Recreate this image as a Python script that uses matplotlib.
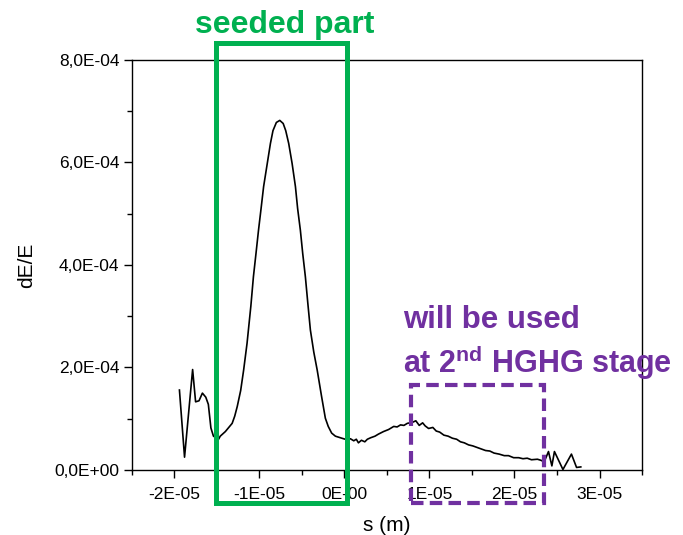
import matplotlib
matplotlib.use("Agg")
import matplotlib.pyplot as plt
from matplotlib.patches import Rectangle
from matplotlib.ticker import MultipleLocator

plt.rcParams["font.family"] = ["Liberation Sans", "DejaVu Sans"]
plt.rcParams["mathtext.fontset"] = "custom"
plt.rcParams["mathtext.rm"] = "Liberation Sans"
plt.rcParams["mathtext.bf"] = "Liberation Sans:bold"

# energy modulation profile, s in 1e-5 m, dE/E in 1e-4
s_pos = [-1.94, -1.88, -1.785, -1.75, -1.71, -1.67, -1.63, -1.60, -1.57, -1.54,
         -1.48, -1.46, -1.40, -1.32, -1.29, -1.26, -1.22, -1.185, -1.145, -1.10,
         -1.07, -1.04, -1.01, -0.98, -0.95, -0.91, -0.87, -0.84, -0.80, -0.76,
         -0.72, -0.69, -0.655, -0.615, -0.576, -0.55, -0.518, -0.49, -0.459,
         -0.43, -0.40, -0.36, -0.32, -0.27, -0.224, -0.19, -0.15, -0.106, -0.03,
         0.03, 0.07, 0.11, 0.14, 0.165, 0.20, 0.24,
         0.27, 0.31, 0.36, 0.40, 0.46, 0.52, 0.58, 0.62, 0.66, 0.70, 0.74, 0.80,
         0.84, 0.88, 0.92, 0.95, 0.99, 1.04, 1.08, 1.12, 1.17, 1.22, 1.27, 1.32,
         1.365, 1.41, 1.46, 1.51, 1.56, 1.61, 1.66, 1.71, 1.76, 1.82, 1.88, 1.93,
         1.99, 2.05, 2.10, 2.15, 2.20, 2.27, 2.31, 2.35, 2.40, 2.44, 2.47, 2.57,
         2.67, 2.73, 2.78]
de_e = [1.56, 0.25, 1.96, 1.33, 1.35, 1.50, 1.42, 1.28, 0.82, 0.66,
        0.60, 0.66, 0.75, 0.91, 1.05, 1.24, 1.55, 1.95, 2.47, 3.20,
        3.77, 4.22, 4.68, 5.10, 5.53, 5.95, 6.37, 6.62, 6.78, 6.82,
        6.76, 6.62, 6.37, 5.98, 5.53, 5.10, 4.68, 4.22, 3.77,
        3.25, 2.73, 2.30, 1.95, 1.45, 1.01, 0.85, 0.72, 0.66, 0.62,
        0.59, 0.61, 0.57, 0.60, 0.53, 0.58, 0.55,
        0.60, 0.63, 0.66, 0.70, 0.75, 0.79, 0.85, 0.84, 0.88, 0.87, 0.91, 0.93,
        0.96, 0.87, 0.92, 0.86, 0.81, 0.83, 0.76, 0.74, 0.68, 0.66, 0.62, 0.60,
        0.55, 0.53, 0.49, 0.47, 0.44, 0.41, 0.38, 0.37, 0.33, 0.31, 0.28, 0.28,
        0.24, 0.24, 0.22, 0.23, 0.20, 0.21, 0.19, 0.16, 0.36, 0.08, 0.36, 0.01,
        0.31, 0.05, 0.06]

x_ticks = [-2, -1, 0, 1, 2, 3]
x_tick_labels = ["-2E-05", "-1E-05", "0E-00", "1E-05", "2E-05", "3E-05"]
y_ticks = [0, 2, 4, 6, 8]
y_tick_labels = ["0,0E+00", "2,0E-04", "4,0E-04", "6,0E-04", "8,0E-04"]

GREEN = "#00B050"
PURPLE = "#7030A0"

fig = plt.figure(figsize=(6.83, 5.35), dpi=100)
ax = fig.add_axes([0.193, 0.1215, 0.747, 0.7665])

ax.plot(s_pos, de_e, color="black", linewidth=1.2)

ax.set_xlim(-2.5, 3.5)
ax.set_ylim(0, 8)
ax.set_xticks(x_ticks)
ax.set_xticklabels(x_tick_labels)
ax.set_yticks(y_ticks)
ax.set_yticklabels(y_tick_labels)
ax.xaxis.set_minor_locator(MultipleLocator(0.5))
ax.yaxis.set_minor_locator(MultipleLocator(1))
ax.tick_params(which="both", direction="out", top=False, right=False,
               labelsize=12.5, width=1.0)
ax.tick_params(which="major", length=6)
ax.tick_params(axis="x", which="major", pad=6)
ax.tick_params(axis="y", which="major", pad=3)
ax.tick_params(which="minor", length=3.5)
for sp in ax.spines.values():
    sp.set_linewidth(1.0)

ax.set_xlabel("s (m)", fontsize=15, labelpad=10)
ax.set_ylabel("dE/E", fontsize=15, labelpad=13)

# highlighted regions (drawn past the axes)
ax.add_patch(Rectangle((-1.506, -0.644), 1.541, 8.977, fill=False,
                       edgecolor=GREEN, linewidth=3.6, clip_on=False,
                       zorder=5))
ax.add_patch(Rectangle((0.788, -0.644), 1.565, 2.304, fill=False,
                       edgecolor=PURPLE, linewidth=3.0, linestyle=(0, (3, 1.5)),
                       clip_on=False, zorder=5))

fig.text(285 / 683, 1 - 33 / 535, "seeded part", color=GREEN, fontsize=23,
         fontweight="bold", ha="center", va="baseline")
fig.text(403 / 683, 1 - 328 / 535, "will be used", color=PURPLE, fontsize=22.5,
         fontweight="bold", ha="left", va="baseline")
fig.text(403 / 683, 1 - 373 / 535, r"at 2$^{\mathbf{nd}}$ HGHG stage",
         color=PURPLE, fontsize=22, fontweight="bold", ha="left", va="baseline")

fig.savefig("out.png", dpi=100)
